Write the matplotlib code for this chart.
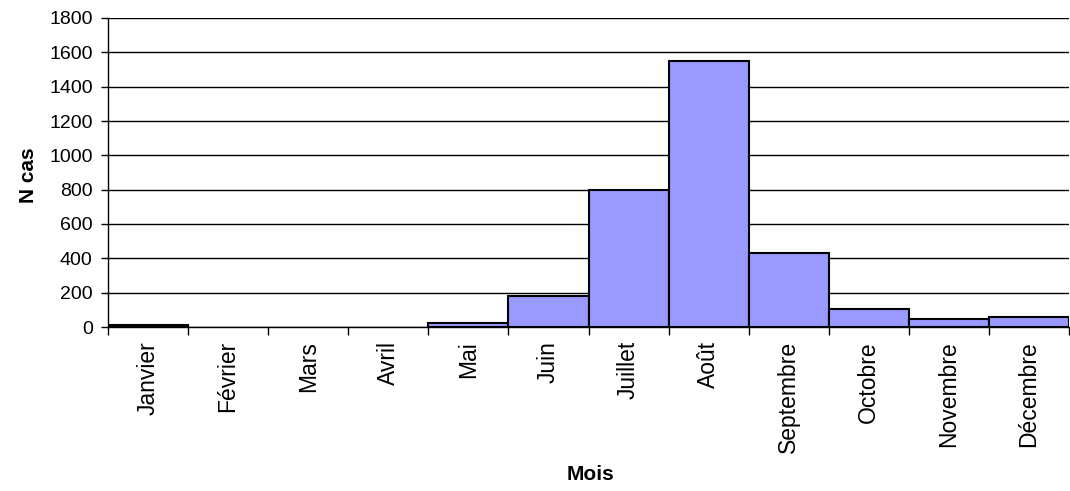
import matplotlib
matplotlib.use("Agg")
import matplotlib.pyplot as plt
import numpy as np

# Monthly case counts
mois = ["Janvier", "Février", "Mars", "Avril", "Mai", "Juin", "Juillet",
        "Août", "Septembre", "Octobre", "Novembre", "Décembre"]
n_cas = [12, 0, 0, 0, 22, 180, 800, 1550, 430, 105, 45, 58]
y_ticks = [0, 200, 400, 600, 800, 1000, 1200, 1400, 1600, 1800]

plt.rcParams["font.family"] = ["Liberation Sans", "DejaVu Sans"]

fig = plt.figure(figsize=(10.70, 4.91), dpi=100)
ax = fig.add_axes([108 / 1070, (491 - 327) / 491, 961 / 1070, 309 / 491])

x = np.arange(len(mois))
# empty months get no outline (nothing to draw on the axis)
widths = [1.5 if v > 0 else 0 for v in n_cas]
ax.bar(x, n_cas, width=1.0, color="#9999ff", edgecolor="black",
       linewidth=widths, zorder=3)

ax.set_xlim(-0.5, len(mois) - 0.5)
ax.set_ylim(0, 1800)
ax.set_yticks(y_ticks)
ax.yaxis.grid(True, color="black", linewidth=1, zorder=0)
ax.set_axisbelow(True)

# ticks at category boundaries, labels centred under each bar
ax.set_xticks(np.arange(-0.5, len(mois), 1.0))
ax.set_xticklabels([])
ax.set_xticks(x, minor=True)
ax.set_xticklabels(mois, minor=True, rotation=90, fontsize=16.5)
ax.tick_params(axis="x", which="major", length=6, width=1, direction="out")
ax.tick_params(axis="x", which="minor", length=0, pad=10)
ax.tick_params(axis="y", length=5, width=1, labelsize=14, pad=6)

for s in ["top", "right"]:
    ax.spines[s].set_visible(False)
for s in ["left", "bottom"]:
    ax.spines[s].set_linewidth(1)

fig.text(590 / 1070, 1 - 475 / 491, "Mois", fontsize=15, fontweight="bold",
         ha="center", va="center")
fig.text(28 / 1070, 1 - 175 / 491, "N cas", fontsize=15, fontweight="bold",
         ha="center", va="center", rotation=90)

fig.savefig("out.png", dpi=100)
